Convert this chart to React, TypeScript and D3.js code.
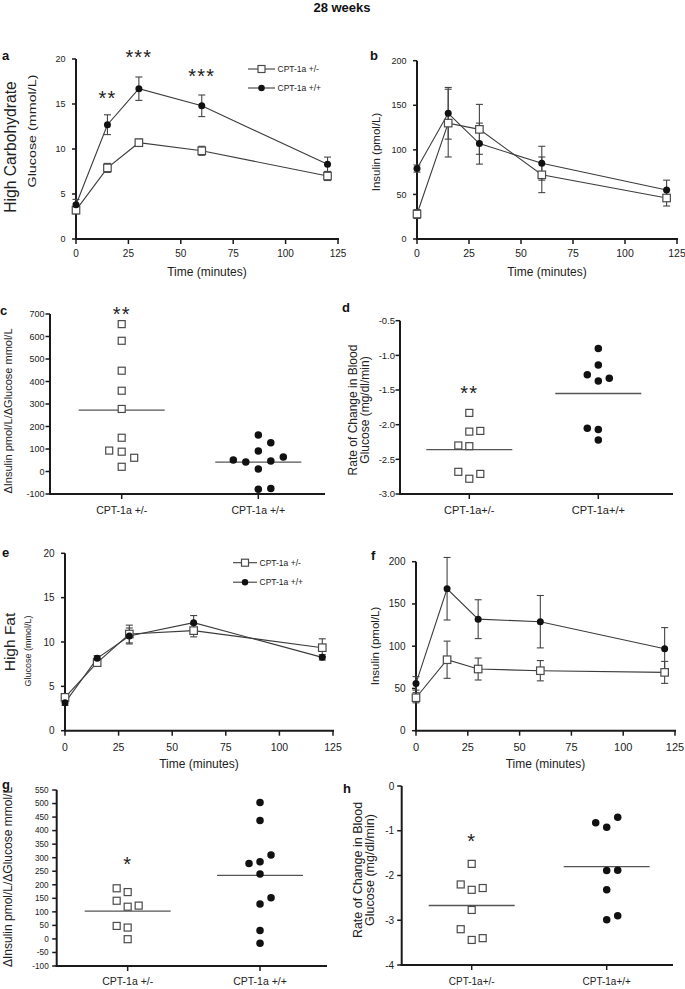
import React from "react";
import * as d3 from "d3";

const FONT = "'Liberation Sans', Arial, Helvetica, sans-serif";

// ---------- shared ----------
const TIME = [0, 15, 30, 60, 120];
const TIME_TICKS = [0, 25, 50, 75, 100, 125];
const GLU_TICKS = [0, 5, 10, 15, 20];
const INS_TICKS = [0, 50, 100, 150, 200];
const LEGEND = ["CPT-1a +/-", "CPT-1a +/+"];
const CATS_SP = ["CPT-1a +/-", "CPT-1a +/+"];
const CATS_NS = ["CPT-1a+/-", "CPT-1a+/+"];

// ---------- a: HC glucose ----------
const A_HET = [3.2, 7.9, 10.7, 9.8, 7.0];
const A_HET_SEM = [0.4, 0.5, 0.4, 0.5, 0.5];
const A_WT = [3.8, 12.7, 16.7, 14.8, 8.3];
const A_WT_SEM = [0.6, 1.1, 1.3, 1.2, 0.8];
const A_STAR_T = [15, 30, 60];
const A_STAR_V = [16.2, 20.7, 18.6];
const A_STAR_S = ["**", "***", "***"];

// ---------- b: HC insulin ----------
const B_HET = [28, 130, 123, 72, 46];
const B_HET_SEM = [5, 38, 28, 20, 9];
const B_WT = [79, 141, 107, 85, 55];
const B_WT_SEM = [4, 29, 23, 19, 11];

// ---------- c ----------
const C_HET = [655, 581, 448, 359, 278, 150, 93, 88, 61, 21];
const C_HET_SLOT = [0, 0, 0, 0, 0, 0, -1, 0, 1, 0];
const C_WT = [162, 128, 91, 51, 42, 47, 64, 11, -79, -76];
const C_WT_SLOT = [0, 1, 0, -2, -1, 1, 2, 0, 0, 1];
const C_MEAN = [273, 42];
const C_TICKS = [-100, 0, 100, 200, 300, 400, 500, 600, 700];
const C_STAR = { v: 721, s: "**" };

// ---------- d ----------
const D_HET = [-1.83, -2.1, -2.09, -2.3, -2.31, -2.68, -2.78, -2.71];
const D_HET_SLOT = [0, 0, 1, -1, 0, -1, 0, 1];
const D_WT = [-0.9, -1.14, -1.28, -1.37, -1.33, -2.05, -2.07, -2.22];
const D_WT_SLOT = [0, 0, -1, 0, 1, -1, 0, 0];
const D_MEAN = [-2.36, -1.55];
const D_TICKS = [-3.0, -2.5, -2.0, -1.5, -1.0, -0.5];
const D_STAR = { v: -1.47, s: "**" };

// ---------- e: HF glucose ----------
const E_HET = [3.76, 7.67, 10.9, 11.28, 9.36];
const E_HET_SEM = [0.3, 0.4, 1.0, 0.7, 1.0];
const E_WT = [3.16, 8.16, 10.68, 12.18, 8.27];
const E_WT_SEM = [0.3, 0.3, 0.9, 0.8, 0.3];

// ---------- f: HF insulin ----------
const F_HET = [39, 84, 73, 71, 69];
const F_HET_SEM = [6, 22, 13, 12, 13];
const F_WT = [56, 168, 132, 129, 97];
const F_WT_SEM = [8, 37, 23, 31, 25];

// ---------- g ----------
const G_HET = [187, 173, 141, 119, 123, 48, 42, -1];
const G_HET_SLOT = [-1, 0, -1, 0, 1, -1, 0, 0];
const G_WT = [504, 437, 310, 285, 279, 240, 152, 129, 31, -16];
const G_WT_SLOT = [0, 0, 1, 0, -1, 0, 1, 0, 0, 0];
const G_MEAN = [103, 235];
const G_TICKS = d3.range(-100, 551, 50);
const G_STAR = { v: 295, s: "*" };

// ---------- h ----------
const H_HET = [-1.74, -2.2, -2.32, -2.28, -2.77, -3.2, -3.44, -3.4];
const H_HET_SLOT = [0, -1, 0, 1, 0, -1, 0, 1];
const H_WT = [-0.82, -0.92, -0.7, -1.89, -1.88, -2.32, -2.99, -2.9];
const H_WT_SLOT = [-1, 0, 1, 0, 1, 0, 0, 1];
const H_MEAN = [-2.67, -1.8];
const H_TICKS = [-4, -3, -2, -1, 0];
const H_STAR = { v: -1.13, s: "*" };

const INK = "#1a1a1a";
const LINE = "#3c3c3c";
const fmtMinus = (s: string) => s.replace("\u2212", "-");

function Marker({ kind, x, y, size }: any) {
  if (kind === "square")
    return (
      <rect x={x - size / 2} y={y - size / 2} width={size} height={size}
        fill="#fff" stroke="#4a4a4a" strokeWidth={1.2} />
    );
  return <circle cx={x} cy={y} r={size / 2} fill="#111" />;
}

function Stars({ x, cy, text, size = 20 }: any) {
  return (
    <text x={x} y={cy + size * 0.58} textAnchor="middle" fontSize={size}
      fill="#222" letterSpacing={1.2}>{text}</text>
  );
}

function RotLabel({ x, y, size, lines, lineGap = 0, length }: any) {
  return (
    <g transform={`translate(${x},${y}) rotate(-90)`}>
      {lines.map((l: string, i: number) => (
        <text key={i} x={0} y={i * lineGap} dy="0.35em" textAnchor="middle"
          fontSize={size} fill="#222"
          {...(length ? { textLength: length, lengthAdjust: "spacingAndGlyphs" } : {})}>{l}</text>
      ))}
    </g>
  );
}

function TimePanel(p: any) {
  const x = d3.scaleLinear().domain([0, 125]).range([p.left, p.right]);
  const y = d3.scaleLinear().domain([0, p.yMax]).range([p.bottom, p.top]);
  const line = d3.line<number>().x((_, i) => x(TIME[i])).y((v) => y(v));
  const series = [
    { values: p.het, sem: p.hetSem, kind: "square" },
    { values: p.wt, sem: p.wtSem, kind: "circle" },
  ];
  return (
    <g>
      <line x1={p.left} x2={p.left} y1={p.top} y2={p.bottom + 1} stroke={INK} strokeWidth={2} />
      <line x1={p.left - 1} x2={p.right + 1} y1={p.bottom} y2={p.bottom} stroke={INK} strokeWidth={2} />
      {p.yTicks.map((t: number) => (
        <g key={"y" + t}>
          <line x1={p.left - 4} x2={p.left} y1={y(t)} y2={y(t)} stroke={INK} strokeWidth={1.5} />
          <text x={p.left - 10.5} y={y(t)} dy="0.35em" textAnchor="end" fontSize={p.yTickSize} fill="#222">{t}</text>
        </g>
      ))}
      {TIME_TICKS.map((t) => (
        <g key={"x" + t}>
          <line x1={x(t)} x2={x(t)} y1={p.bottom} y2={p.bottom + 5} stroke={INK} strokeWidth={1.5} />
          <text x={x(t)} y={p.xTickY} textAnchor="middle" fontSize={p.xTickSize} fill="#222">{t}</text>
        </g>
      ))}
      <text x={(p.left + p.right) / 2} y={p.xTitleY} textAnchor="middle" fontSize={12} fill="#222">Time (minutes)</text>
      {series.map((s, si) => (
        <g key={si}>
          <path d={line(s.values) || ""} fill="none" stroke={LINE} strokeWidth={1.1} />
          {s.values.map((v: number, i: number) => {
            const cx = x(TIME[i]);
            const y1 = y(v - s.sem[i]);
            const y2 = y(v + s.sem[i]);
            return (
              <g key={i} stroke="#444" strokeWidth={1.1}>
                <line x1={cx} x2={cx} y1={y1} y2={y2} />
                <line x1={cx - 3.5} x2={cx + 3.5} y1={y1} y2={y1} />
                <line x1={cx - 3.5} x2={cx + 3.5} y1={y2} y2={y2} />
              </g>
            );
          })}
        </g>
      ))}
      {series.map((s, si) => (
        <g key={"m" + si}>
          {s.values.map((v: number, i: number) => (
            <Marker key={i} kind={s.kind} x={x(TIME[i])} y={y(v)} size={s.kind === "square" ? 7.5 : 7} />
          ))}
        </g>
      ))}
      {p.stars &&
        p.stars.t.map((t: number, i: number) => (
          <Stars key={i} x={x(t)} cy={y(p.stars.v[i])} text={p.stars.s[i]} />
        ))}
      {p.legend && (
        <g>
          {LEGEND.map((l, i) => {
            const ly = p.legend.y + i * p.legend.gap;
            return (
              <g key={l}>
                <line x1={p.legend.x1} x2={p.legend.x2} y1={ly} y2={ly} stroke={LINE} strokeWidth={1.1} />
                <Marker kind={i === 0 ? "square" : "circle"} x={(p.legend.x1 + p.legend.x2) / 2} y={ly} size={i === 0 ? 7 : 6.5} />
                <text x={p.legend.x2 + 2.5} y={ly} dy="0.35em" fontSize={8.5} fill="#222">{l}</text>
              </g>
            );
          })}
        </g>
      )}
    </g>
  );
}

function ScatterPanel(p: any) {
  const y = d3.scaleLinear().domain(p.yDomain).range([p.bottom, p.top]);
  const x = d3.scalePoint<number>().domain([0, 1]).range(p.catRange).padding(0.5);
  const groups = [
    { values: p.het, slot: p.hetSlot, kind: "square" },
    { values: p.wt, slot: p.wtSlot, kind: "circle" },
  ];
  return (
    <g>
      <line x1={p.axisX} x2={p.axisX} y1={p.top} y2={p.bottom + 1} stroke={INK} strokeWidth={2} />
      <line x1={p.axisX - 1} x2={p.axisRight} y1={p.bottom} y2={p.bottom} stroke={INK} strokeWidth={2} />
      {p.yTicks.map((t: number) => (
        <g key={t}>
          <line x1={p.axisX - 4.5} x2={p.axisX} y1={y(t)} y2={y(t)} stroke={INK} strokeWidth={1.5} />
          <text x={p.axisX - p.labelGap} y={y(t)} dy="0.35em" textAnchor="end" fontSize={p.yTickSize} fill="#222">
            {fmtMinus(p.fmt(t))}
          </text>
        </g>
      ))}
      {p.cats.map((c: string, i: number) => (
        <g key={c}>
          <line x1={x(i)!} x2={x(i)!} y1={p.bottom} y2={p.bottom + 5} stroke={INK} strokeWidth={1.5} />
          <text x={x(i)!} y={p.catY} textAnchor="middle" fontSize={p.catSize} fill="#222">{c}</text>
        </g>
      ))}
      {p.means.map((m: number, i: number) => (
        <line key={"m" + i} x1={x(i)! - 43} x2={x(i)! + 43} y1={y(m)} y2={y(m)} stroke="#555" strokeWidth={1.3} />
      ))}
      {groups.map((g, gi) => (
        <g key={gi}>
          {g.values.map((v: number, i: number) => (
            <Marker key={i} kind={g.kind} x={x(gi)! + g.slot[i] * p.slotW} y={y(v)} size={g.kind === "square" ? 7 : 7.5} />
          ))}
        </g>
      ))}
      <Stars x={x(0)!} cy={y(p.star.v)} text={p.star.s} />
    </g>
  );
}

function Letter({ x, y, t }: any) {
  return <text x={x} y={y} fontSize={13} fontWeight="bold" fill="#111">{t}</text>;
}

export default function App() {
  const fmtInt = (v: number) => String(v);
  const fmt1 = d3.format(".1f");
  return (
    <svg width={685} height={989} viewBox="0 0 685 989"
      style={{ position: "absolute", left: 0, top: 0, background: "#fff" }} fontFamily={FONT}>
      <rect width={685} height={989} fill="#fff" />
      <text x={342} y={12} textAnchor="middle" fontSize={13} fontWeight="bold" fill="#111">28 weeks</text>

      {/* a */}
      <Letter x={2} y={60} t="a" />
      <RotLabel x={10} y={147} size={15.7} lines={["High Carbohydrate"]} />
      <RotLabel x={32} y={131} size={11.5} lines={["Glucose (mmol/L)"]} length={113} />
      <TimePanel left={76} right={338} top={59} bottom={239} yMax={20} yTicks={GLU_TICKS}
        het={A_HET} hetSem={A_HET_SEM} wt={A_WT} wtSem={A_WT_SEM}
        xTickY={257} xTitleY={276} xTickSize={10} yTickSize={9}
        stars={{ t: A_STAR_T, v: A_STAR_V, s: A_STAR_S }}
        legend={{ x1: 248, x2: 275, y: 69, gap: 19 }} />

      {/* b */}
      <Letter x={370} y={60} t="b" />
      <RotLabel x={376} y={152} size={11.5} lines={["Insulin (pmol/L)"]} />
      <TimePanel left={417} right={677} top={60.7} bottom={239} yMax={200} yTicks={INS_TICKS}
        het={B_HET} hetSem={B_HET_SEM} wt={B_WT} wtSem={B_WT_SEM}
        xTickY={257} xTitleY={276} xTickSize={10.5} yTickSize={9} />

      {/* c */}
      <Letter x={0} y={315} t="c" />
      <RotLabel x={8} y={411} size={11} lines={["\u0394Insulin pmol/L/\u0394Glucose mmol/L"]} />
      <ScatterPanel axisX={50} axisRight={325} top={314} bottom={494} yDomain={[-100, 700]} yTicks={C_TICKS}
        fmt={fmtInt} yTickSize={9} labelGap={5.5} catRange={[53.4, 326.6]} cats={CATS_SP} catY={514} catSize={10.5}
        het={C_HET} hetSlot={C_HET_SLOT} wt={C_WT} wtSlot={C_WT_SLOT} means={C_MEAN} slotW={12.5} star={C_STAR} />

      {/* d */}
      <Letter x={342} y={312} t="d" />
      <RotLabel x={353} y={410} size={12} lines={["Rate of Change in Blood", "Glucose (mg/dl/min)"]} lineGap={11.5} />
      <ScatterPanel axisX={400} axisRight={673} top={320.7} bottom={494} yDomain={[-3, -0.5]} yTicks={D_TICKS}
        fmt={fmt1} yTickSize={9.5} labelGap={5} catRange={[404.8, 662.8]} cats={CATS_NS} catY={514} catSize={11}
        het={D_HET} hetSlot={D_HET_SLOT} wt={D_WT} wtSlot={D_WT_SLOT} means={D_MEAN} slotW={11} star={D_STAR} />

      {/* e */}
      <Letter x={2} y={557} t="e" />
      <RotLabel x={10} y={642} size={15.5} lines={["High Fat"]} />
      <RotLabel x={28} y={651} size={9} lines={["Glucose (mmol/L)"]} />
      <TimePanel left={65} right={333} top={553.3} bottom={730.7} yMax={20} yTicks={GLU_TICKS}
        het={E_HET} hetSem={E_HET_SEM} wt={E_WT} wtSem={E_WT_SEM}
        xTickY={751} xTitleY={768} xTickSize={10.5} yTickSize={10}
        legend={{ x1: 233, x2: 257, y: 562.7, gap: 19.5 }} />

      {/* f */}
      <Letter x={371} y={560} t="f" />
      <RotLabel x={375} y={646} size={11.5} lines={["Insulin (pmol/L)"]} />
      <TimePanel left={416} right={675} top={561.7} bottom={730.7} yMax={200} yTicks={INS_TICKS}
        het={F_HET} hetSem={F_HET_SEM} wt={F_WT} wtSem={F_WT_SEM}
        xTickY={751} xTitleY={768} xTickSize={11} yTickSize={10} />

      {/* g */}
      <Letter x={2} y={789} t="g" />
      <RotLabel x={8} y={877} size={12} lines={["\u0394Insulin pmol/L/\u0394Glucose mmol/L"]} />
      <ScatterPanel axisX={56.7} axisRight={327} top={790} bottom={966} yDomain={[-100, 550]} yTicks={G_TICKS}
        fmt={fmtInt} yTickSize={8.2} labelGap={8} catRange={[61.5, 326.2]} cats={CATS_SP} catY={985} catSize={10.5}
        het={G_HET} hetSlot={G_HET_SLOT} wt={G_WT} wtSlot={G_WT_SLOT} means={G_MEAN} slotW={11} star={G_STAR} />

      {/* h */}
      <Letter x={343} y={793} t="h" />
      <RotLabel x={358} y={870} size={12.5} lines={["Rate of Change in Blood", "Glucose (mg/dl/min)"]} lineGap={11.5} />
      <ScatterPanel axisX={401.7} axisRight={673} top={786} bottom={965} yDomain={[-4, 0]} yTicks={H_TICKS}
        fmt={fmtInt} yTickSize={10} labelGap={7.5} catRange={[404.2, 674.2]} cats={CATS_NS} catY={985} catSize={10}
        het={H_HET} hetSlot={H_HET_SLOT} wt={H_WT} wtSlot={H_WT_SLOT} means={H_MEAN} slotW={11} star={H_STAR} />
    </svg>
  );
}
